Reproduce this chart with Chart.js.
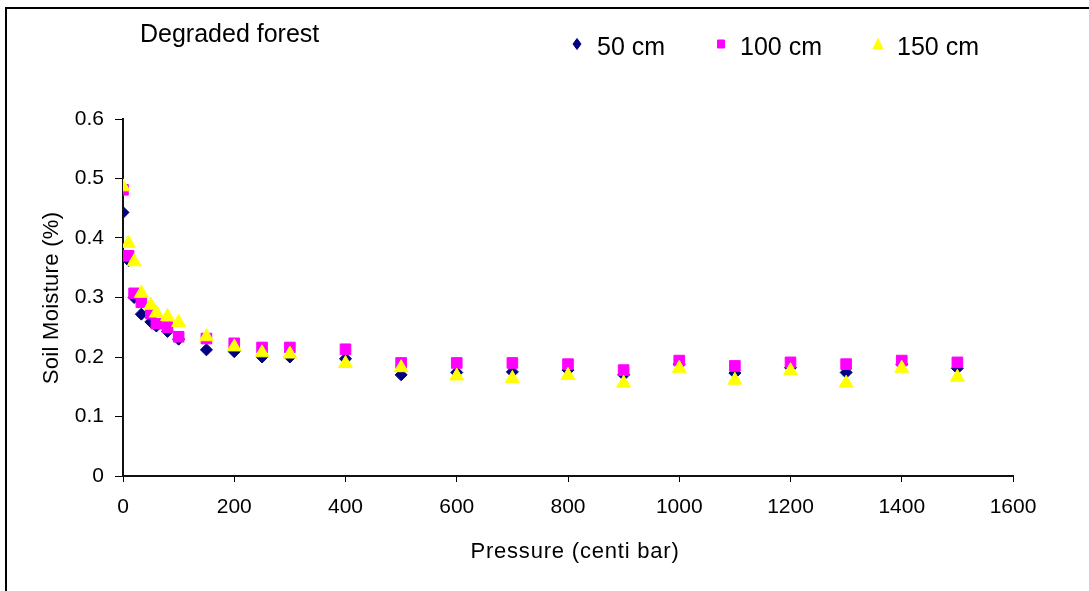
<!DOCTYPE html>
<html>
<head>
<meta charset="utf-8">
<script src="https://cdn.jsdelivr.net/npm/chart.js@4/dist/chart.umd.min.js"></script>
<style>
html,body{margin:0;padding:0;background:#fff;overflow:hidden}
#wrap{position:relative;width:1089px;height:591px}
</style>
</head>
<body>
<div id="wrap"><canvas id="c" width="1089" height="591"></canvas></div>
<script>
// ---- data ----
const pressure = [0,10,20,33,50,60,80,100,150,200,250,300,400,500,600,700,800,900,1000,1100,1200,1300,1400,1500];
const moisture50  = [0.443,0.362,0.300,0.272,0.259,0.252,0.243,0.230,0.212,0.209,0.200,0.200,0.197,0.170,0.174,0.175,0.178,0.170,0.188,0.173,0.182,0.174,0.188,0.181];
const moisture100 = [0.481,0.370,0.307,0.292,0.273,0.256,0.250,0.234,0.231,0.223,0.216,0.216,0.213,0.190,0.190,0.190,0.188,0.178,0.194,0.185,0.191,0.188,0.194,0.191];
const moisture150 = [0.486,0.391,0.360,0.307,0.287,0.274,0.268,0.258,0.234,0.217,0.207,0.205,0.189,0.182,0.168,0.164,0.169,0.156,0.181,0.161,0.177,0.156,0.181,0.166];
const seriesLabels = ['50 cm','100 cm','150 cm'];
const xTicks = [0,200,400,600,800,1000,1200,1400,1600];
const yTicks = [0,0.1,0.2,0.3,0.4,0.5,0.6];
const chartTitle = 'Degraded forest';
const xTitle = 'Pressure (centi bar)';
const yTitle = 'Soil Moisture (%)';

const FONT = '"Liberation Sans", Arial, sans-serif';
const colors = ['#000080','#FF00FF','#FFFF00'];
const styles = ['rectRot','rect','triangle'];
const radii = [6,7.5,8];

function pts(ys){ return pressure.map((p,i)=>({x:p,y:ys[i]})); }
const allSeries = [moisture50, moisture100, moisture150];

const datasets = allSeries.map((ys,i)=>({
  label: seriesLabels[i],
  data: pts(ys),
  showLine: false,
  pointStyle: styles[i],
  pointRadius: radii[i],
  pointHoverRadius: radii[i],
  backgroundColor: colors[i],
  borderColor: colors[i],
  pointBorderWidth: 1,
  order: 3 - i
}));

function legendMarker(ctx, style, x, y, color){
  ctx.save();
  ctx.fillStyle = color; ctx.strokeStyle = color; ctx.lineWidth = 1;
  ctx.beginPath();
  if (style === 'rectRot'){
    ctx.moveTo(x, y-5.5); ctx.lineTo(x+4, y); ctx.lineTo(x, y+5.5); ctx.lineTo(x-4, y);
  } else if (style === 'rect'){
    ctx.rect(x-3.5, y-4, 7, 8);
  } else {
    ctx.moveTo(x, y-5.5); ctx.lineTo(x+5, y+5); ctx.lineTo(x-5, y+5);
  }
  ctx.closePath(); ctx.fill(); ctx.stroke();
  ctx.restore();
}

const decor = {
  id: 'decor',
  afterDraw(chart){
    const ctx = chart.ctx;
    ctx.save();
    // frame (top and left)
    ctx.strokeStyle = '#000'; ctx.lineWidth = 2;
    ctx.beginPath();
    ctx.moveTo(6, 591); ctx.lineTo(6, 8); ctx.lineTo(1089, 8);
    ctx.stroke();
    // chart title
    ctx.fillStyle = '#000';
    ctx.font = '25px ' + FONT;
    ctx.textAlign = 'left'; ctx.textBaseline = 'alphabetic';
    ctx.fillText(chartTitle, 140, 41.5);
    // legend
    const lx = [577, 721, 878];
    const tx = [597, 740, 897];
    for (let i=0;i<3;i++){
      legendMarker(ctx, styles[i], lx[i], 44, colors[i]);
      ctx.fillStyle = '#000';
      ctx.fillText(seriesLabels[i], tx[i], 54.5);
    }
    // axis titles
    ctx.font = '22px ' + FONT;
    ctx.textAlign = 'center';
    try { ctx.letterSpacing = '0.8px'; } catch(e) {}
    ctx.fillText(xTitle, 575, 558);
    try { ctx.letterSpacing = '0.3px'; } catch(e) {}
    ctx.translate(58, 298);
    ctx.rotate(-Math.PI/2);
    ctx.fillText(yTitle, 0, 0);
    ctx.restore();
  }
};

new Chart(document.getElementById('c'), {
  type: 'scatter',
  data: { datasets },
  options: {
    responsive: false,
    animation: false,
    events: [],
    layout: { padding: { left: 0, top: 119, right: 76, bottom: 0 } },
    plugins: { legend: { display: false }, tooltip: { enabled: false }, title: { display: false } },
    scales: {
      x: {
        type: 'linear', min: 0, max: 1600,
        afterBuildTicks: s => { s.ticks = xTicks.map(v=>({value:v})); },
        afterFit: s => { s.height = 115; },
        ticks: { color: '#000', font: { size: 21, family: FONT }, padding: 13, maxRotation: 0, autoSkip: false,
                 callback: v => String(v) },
        grid: { display: true, drawOnChartArea: false, drawTicks: true, tickLength: 6, color: '#000', lineWidth: 1 },
        border: { display: true, color: '#111', width: 2 }
      },
      y: {
        type: 'linear', min: 0, max: 0.6,
        afterBuildTicks: s => { s.ticks = yTicks.map(v=>({value:v})); },
        afterFit: s => { s.width = 123; },
        ticks: { color: '#000', font: { size: 21, family: FONT }, padding: 11, autoSkip: false,
                 callback: v => String(Math.round(v*10)/10) },
        grid: { display: true, drawOnChartArea: false, drawTicks: true, tickLength: 8, color: '#000', lineWidth: 1 },
        border: { display: true, color: '#111', width: 2 }
      }
    }
  },
  plugins: [decor]
});
</script>
</body>
</html>
